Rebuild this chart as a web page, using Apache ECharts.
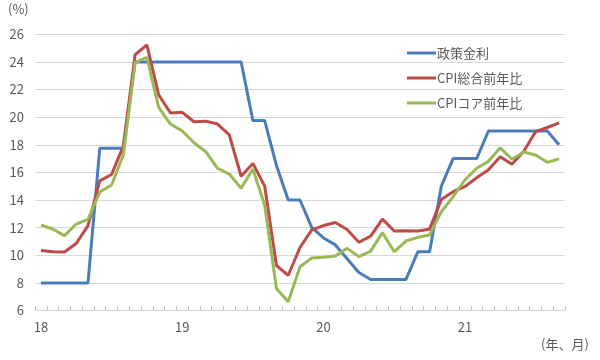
<!DOCTYPE html>
<html>
<head>
<meta charset="utf-8">
<script src="https://cdn.jsdelivr.net/npm/echarts@6/dist/echarts.min.js"></script>
<style>html,body{margin:0;padding:0;background:#fff}#c{width:600px;height:360px}</style>
</head>
<body>
<div id="c"></div>
<script>
var categories = [
  '18/1','18/2','18/3','18/4','18/5','18/6','18/7','18/8','18/9','18/10','18/11','18/12',
  '19/1','19/2','19/3','19/4','19/5','19/6','19/7','19/8','19/9','19/10','19/11','19/12',
  '20/1','20/2','20/3','20/4','20/5','20/6','20/7','20/8','20/9','20/10','20/11','20/12',
  '21/1','21/2','21/3','21/4','21/5','21/6','21/7','21/8','21/9'
];
var policyRate = [
  8,8,8,8,8,17.75,17.75,17.75,24,24,24,24,
  24,24,24,24,24,24,19.75,19.75,16.5,14,14,12,
  11.25,10.75,9.75,8.75,8.25,8.25,8.25,8.25,10.25,10.25,15,17,
  17,17,19,19,19,19,19,19,18
];
var cpiHeadline = [
  10.35,10.26,10.23,10.85,12.15,15.39,15.85,17.9,24.52,25.24,21.62,20.3,
  20.35,19.67,19.71,19.5,18.71,15.72,16.65,15.01,9.26,8.55,10.56,11.84,
  12.15,12.37,11.86,10.94,11.39,12.62,11.76,11.77,11.75,11.89,14.03,14.6,
  14.97,15.61,16.19,17.14,16.59,17.53,18.95,19.25,19.58
];
var cpiCore = [
  12.19,11.9,11.42,12.26,12.6,14.58,15.09,17.26,23.97,24.33,20.71,19.5,
  19.0,18.15,17.5,16.3,15.88,14.85,16.25,13.64,7.6,6.64,9.17,9.8,
  9.85,9.95,10.5,9.9,10.3,11.64,10.26,11.03,11.3,11.47,13.16,14.24,
  15.45,16.3,16.8,17.78,16.95,17.48,17.26,16.73,16.99
];
var seriesNames = ['政策金利', 'CPI総合前年比', 'CPIコア前年比'];
var yTicks = {min: 6, max: 26, interval: 2};

var font = '"Noto Sans CJK JP", "Noto Sans", sans-serif';
var textColor = '#595959';
var chart = echarts.init(document.getElementById('c'));
function mk(name, data, color) {
  return {
    name: name, type: 'line', data: data, symbol: 'none',
    lineStyle: {width: 3, color: color}, itemStyle: {color: color},
    animation: false
  };
}
chart.setOption({
  animation: false,
  grid: {left: 35, right: 35, top: 34.3, bottom: 49.5, containLabel: false},
  legend: {
    orient: 'vertical', left: 402, top: 41,
    icon: 'rect', itemWidth: 29, itemHeight: 3, itemGap: 11,
    textStyle: {fontFamily: font, fontSize: 13, color: textColor, lineHeight: 14, padding: [0,0,0,-4]},
    data: seriesNames
  },
  xAxis: {
    type: 'category', data: categories, boundaryGap: true,
    axisLine: {lineStyle: {color: '#D9D9D9', width: 1}},
    axisTick: {show: true, inside: true, length: 4, interval: 0, lineStyle: {color: '#BFBFBF'}},
    axisLabel: {
      interval: 0, margin: 10, fontFamily: font, fontSize: 13, color: textColor,
      formatter: function (v) { var p = v.split('/'); return p[1] === '1' ? p[0] : ''; }
    },
    splitLine: {show: false}
  },
  yAxis: {
    type: 'value', min: yTicks.min, max: yTicks.max, interval: yTicks.interval,
    axisLine: {show: false}, axisTick: {show: false},
    axisLabel: {margin: 11, fontFamily: font, fontSize: 13, color: textColor},
    splitLine: {lineStyle: {color: '#D9D9D9', width: 1}}
  },
  graphic: [
    {type: 'text', left: 8, top: 3, style: {text: '(%)', font: '13px ' + font, fill: textColor}},
    {type: 'text', left: 541, top: 338, style: {text: '(年、月)', font: '13px ' + font, fill: textColor}}
  ],
  series: [
    mk(seriesNames[0], policyRate, '#4A7EBB'),
    mk(seriesNames[1], cpiHeadline, '#BE4B48'),
    mk(seriesNames[2], cpiCore, '#98B954')
  ]
});
</script>
</body>
</html>
